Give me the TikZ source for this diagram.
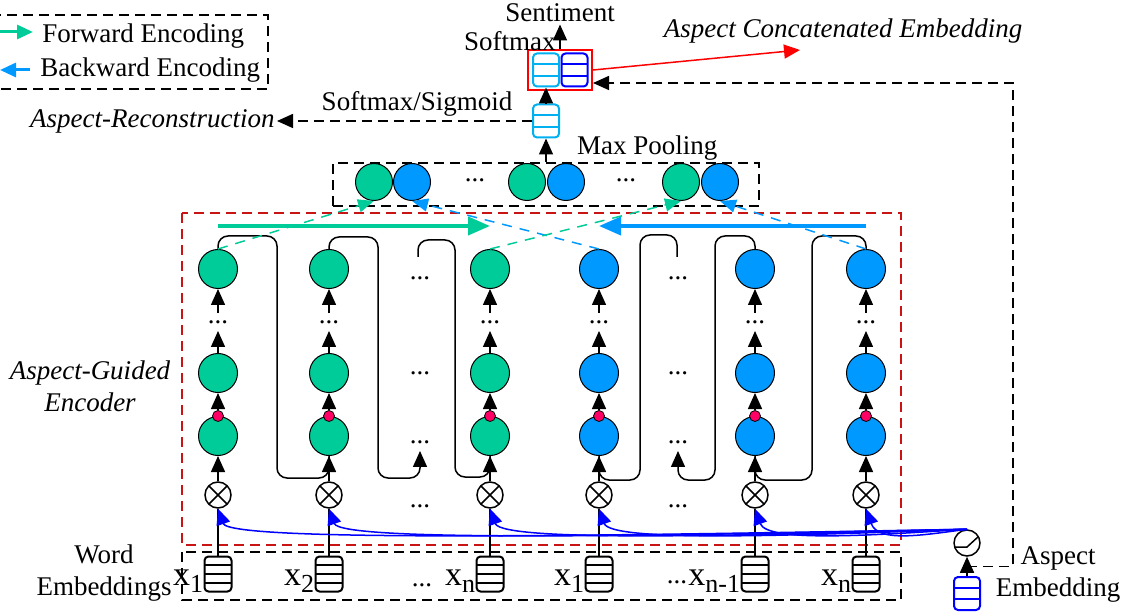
\documentclass[tikz,border=0pt]{standalone}
\usepackage{fontspec}
\setmainfont{Liberation Serif}
\usetikzlibrary{arrows.meta, calc, positioning}

\definecolor{fwdgreen}{RGB}{0,204,153}
\definecolor{bwdblue}{RGB}{0,153,255}
\definecolor{gatered}{RGB}{255,0,102}
\definecolor{vecblue}{RGB}{0,176,240}
\definecolor{encred}{RGB}{200,20,20}
\newcommand{\wsub}[1]{x\raisebox{-0.22em}{\fontsize{13}{13}\selectfont #1}}

\begin{document}
\begin{tikzpicture}[x=0.5pt, y=-0.5pt,
    every node/.style={font=\fontsize{13.5}{16}\selectfont},
    itlabel/.style={font=\fontsize{13.5}{16}\selectfont\itshape},
    wlabel/.style={font=\fontsize{17}{18}\selectfont, anchor=base east, inner sep=0pt},
    arr/.style={line width=0.75pt, -{Triangle[length=8pt, width=7pt]}},
    fwd/.style={circle, draw, line width=0.5pt, fill=fwdgreen, minimum size=19.5pt, inner sep=0pt},
    bwd/.style={fwd, fill=bwdblue},
    pooled/.style={circle, draw, line width=0.5pt, minimum size=18.5pt, inner sep=0pt},
    gatedot/.style={circle, draw, line width=0.4pt, fill=gatered, minimum size=5.5pt, inner sep=0pt},
    mult/.style={circle, draw, line width=0.75pt, minimum size=13pt, inner sep=0pt,
      path picture={\draw[line width=0.75pt] (path picture bounding box.south west) -- (path picture bounding box.north east)
        (path picture bounding box.north west) -- (path picture bounding box.south east);}},
    sigmoid/.style={circle, draw, line width=0.75pt, minimum size=13pt, inner sep=0pt,
      path picture={\draw[line width=0.75pt] ([shift={(-7pt,-2pt)}]path picture bounding box.center)
        -- ([shift={(0pt,-2pt)}]path picture bounding box.center) -- ([shift={(6pt,3.5pt)}]path picture bounding box.center);}},
    wordemb/.style={rectangle, rounded corners=2pt, draw, line width=1pt, minimum width=13.5pt, minimum height=17.5pt, inner sep=0pt,
      path picture={\foreach \f in {0.25,0.5,0.75}
        \draw[line width=1pt] ($(path picture bounding box.south west)!\f!(path picture bounding box.north west)$)
          -- ($(path picture bounding box.south east)!\f!(path picture bounding box.north east)$);}},
    vecbox/.style={rectangle, rounded corners=2pt, draw=#1, line width=1pt, minimum width=13pt, minimum height=16.5pt, inner sep=0pt,
      path picture={\foreach \f in {0.333,0.667}
        \draw[#1, line width=1pt] ($(path picture bounding box.south west)!\f!(path picture bounding box.north west)$)
          -- ($(path picture bounding box.south east)!\f!(path picture bounding box.north east)$);}},
    skip/.style={draw, line width=0.75pt, rounded corners=5pt},
    vdots/.style={inner sep=3.5pt},
    dashline/.style={line width=0.75pt, dash pattern=on 5pt off 3pt},
    fwdlink/.style={draw=fwdgreen, line width=0.75pt, dash pattern=on 5pt off 4pt, -{Triangle[length=8pt, width=6.5pt]}},
    bwdlink/.style={fwdlink, draw=bwdblue},
    fwdflow/.style={draw=fwdgreen, line width=2pt, -{Triangle[length=11pt, width=9pt]}},
    bwdflow/.style={fwdflow, draw=bwdblue},
    aspflow/.style={draw=blue, line width=0.75pt, -{Triangle[length=8pt, width=7pt]}}]
    \useasboundingbox (0,0) rectangle (1128,614);

    % Legend
    \draw[dashline] (-5,15) rectangle (268,89);
    \node[anchor=west, inner sep=0pt] (lgf) at (42,36) {Forward Encoding};
    \node[anchor=west, inner sep=0pt] (lgb) at (40,70) {Backward Encoding};
    \coordinate (lgf0) at (0,32);
    \coordinate (lgf1) at (33,32);
    \coordinate (lgb0) at (30,70);
    \coordinate (lgb1) at (0,70);
    \draw[draw=fwdgreen, line width=1.5pt, -{Triangle[length=8pt, width=7pt]}] (lgf0) -- (lgf1);
    \draw[draw=bwdblue, line width=1.5pt, -{Triangle[length=8pt, width=7pt]}] (lgb0) -- (lgb1);

    % Encoder columns
    \draw[encred, dash pattern=on 5pt off 3pt, line width=0.75pt] (182,213) rectangle (901,545);
    \draw[dashline] (182,552) rectangle (901,600);
    \foreach \i/\x/\s in {1/218/fwd, 2/329/fwd, 4/490/fwd, 5/599/bwd, 7/755/bwd, 8/866/bwd}{
        \node[\s] (t\i) at (\x,269) {};
        \node[vdots] (d\i) at (\x,322) {...};
        \node[\s] (m\i) at (\x,373) {};
        \node[\s] (b\i) at (\x,436) {};
        \node[gatedot] (g\i) at (b\i.north) {};
        \node[mult] (o\i) at (\x,495) {};
        \node[wordemb] (e\i) at (\x,574) {};
    }
    \foreach \c/\x in {3/420, 6/678}{
        \node[vdots] (dtop\c) at (\x,278) {...};
        \node[vdots] (dmid\c) at (\x,373) {...};
        \node[vdots] (dbot\c) at (\x,442) {...};
        \node[vdots] (dmul\c) at (\x,506) {...};
    }
    \node[anchor=base] (demb3) at (422,586) {...};
    \node[anchor=base] (demb6) at (677,583) {...};

    % Word labels
    \node[wlabel] (x1) at (e1.west |- 0,585) {\wsub{1}};
    \node[wlabel] (x2) at (e2.west |- 0,585) {\wsub{2}};
    \node[wlabel] (x4) at (e4.west |- 0,585) {\wsub{n}};
    \node[wlabel] (x5) at (e5.west |- 0,585) {\wsub{1}};
    \node[wlabel] (x7) at (e7.west |- 0,585) {\wsub{n-1}};
    \node[wlabel] (x8) at (e8.west |- 0,585) {\wsub{n}};
    \node[align=center] (wel) at (104,573) {Word\\Embeddings};
    \node[itlabel, align=center] (agel) at (90,386) {Aspect-Guided\\Encoder};

    % Column edges
    \foreach \i in {1,2,4,5,7,8}{
        \draw[line width=0.75pt] (e\i) -- (o\i);
        \draw[arr] (o\i) -- (b\i);
        \draw[arr] (g\i) -- (m\i);
        \draw[arr] (m\i) -- (d\i);
        \draw[arr] (d\i) -- (t\i);
    }

    % Skip connections
    \coordinate (s3) at (418,257);
    \coordinate (s6) at (677,257);
    \draw[skip] (t1.north) |- (277,236) |- (b2.south |- 0,478) -- (b2.south);
    \draw[skip, arr] (t2.north) |- (378,237) |- (420,478) -- (dbot3.south);
    \draw[skip] (s3) |- (455,240) |- (b4.south |- 0,477) -- (b4.south);
    \draw[skip] (t8.north) |- (812,236) |- (b7.south |- 0,480) -- (b7.south);
    \draw[skip, arr] (t7.north) |- (715,236) |- (678,480) -- (dbot6.south);
    \draw[skip] (s6) |- (640,235) |- (b5.south |- 0,480) -- (b5.south);

    % Encoding directions
    \draw[fwdflow] (t1.north |- 0,226) -- (t4.north |- 0,226);
    \draw[bwdflow] (t8.north |- 0,226) -- (t5.north |- 0,226);

    % Max pooling
    \node[dashline, draw, minimum width=213pt, minimum height=21.5pt, inner sep=0pt] (pool) at (546,184.5) {};
    \node[pooled, fill=fwdgreen] (p1f) at (374,182) {};
    \node[pooled, fill=bwdblue] (p1b) at (412,182) {};
    \node (pd1) at (475,180) {...};
    \node[pooled, fill=fwdgreen] (p2f) at (527,182) {};
    \node[pooled, fill=bwdblue] (p2b) at (566,182) {};
    \node (pd2) at (626,180) {...};
    \node[pooled, fill=fwdgreen] (p3f) at (681,182) {};
    \node[pooled, fill=bwdblue] (p3b) at (720,182) {};
    \node[anchor=west] (mpl) at (570,148) {Max Pooling};
    \draw[fwdlink] (t1.north) -- (p1f.south);
    \draw[bwdlink] (t5.north) -- (p1b.south);
    \draw[fwdlink] (t4.north) -- (p3f.south);
    \draw[bwdlink] (t8.north) -- (p3b.south);

    % Output heads
    \node[vecbox=vecblue] (sm) at (546,121) {};
    \node[vecbox=vecblue] (ca) at (546,70) {};
    \node[vecbox=blue] (cb) at (574.5,70) {};
    \node[draw=red, line width=1pt, minimum width=32pt, minimum height=20pt, inner sep=0pt] (cat) at (560,70) {};
    \node[inner sep=1pt] (senti) at (560,13) {Sentiment};
    \node[anchor=east, inner sep=1pt] (smx) at (558,41) {Softmax};
    \node (sig2) at (417,104) {Softmax/Sigmoid};
    \node[itlabel, anchor=east, inner sep=1pt] (recon) at (277,121) {Aspect-Reconstruction};
    \node[itlabel] (acl) at (843,31) {Aspect Concatenated Embedding};
    \coordinate (cattip) at (800,50);
    \draw[arr] (pool) -- (sm);
    \draw[arr] (sm) -- (ca);
    \draw[arr] (cat) -- (senti);
    \draw[dashline, arr] (sm) -- (recon);
    \draw[draw=red, line width=0.75pt, -{Triangle[length=8pt, width=7pt]}] (cat.east) -- (cattip);

    % Aspect embedding
    \node[vecbox=blue] (ae) at (967,593.5) {};
    \node[sigmoid] (sig) at (967,543) {};
    \node[align=center] (ael) at (1058,574) {Aspect\\Embedding};
    \draw[arr] (ae) -- (sig);
    \draw[dashline, arr] ($(ae.north)!0.5!(sig.south)$) -| (1013,83) -- (cat.east |- 0,83);
    \foreach \i/\x in {1/218, 2/329, 4/490, 5/599, 7/755, 8/866}{
        \pgfmathsetmacro\cd{0.45*(967-\x)}
        \draw[aspflow] (sig.north) .. controls +(-\cd,6) and +(12,34) .. (o\i.south);
    }
\end{tikzpicture}
\end{document}
